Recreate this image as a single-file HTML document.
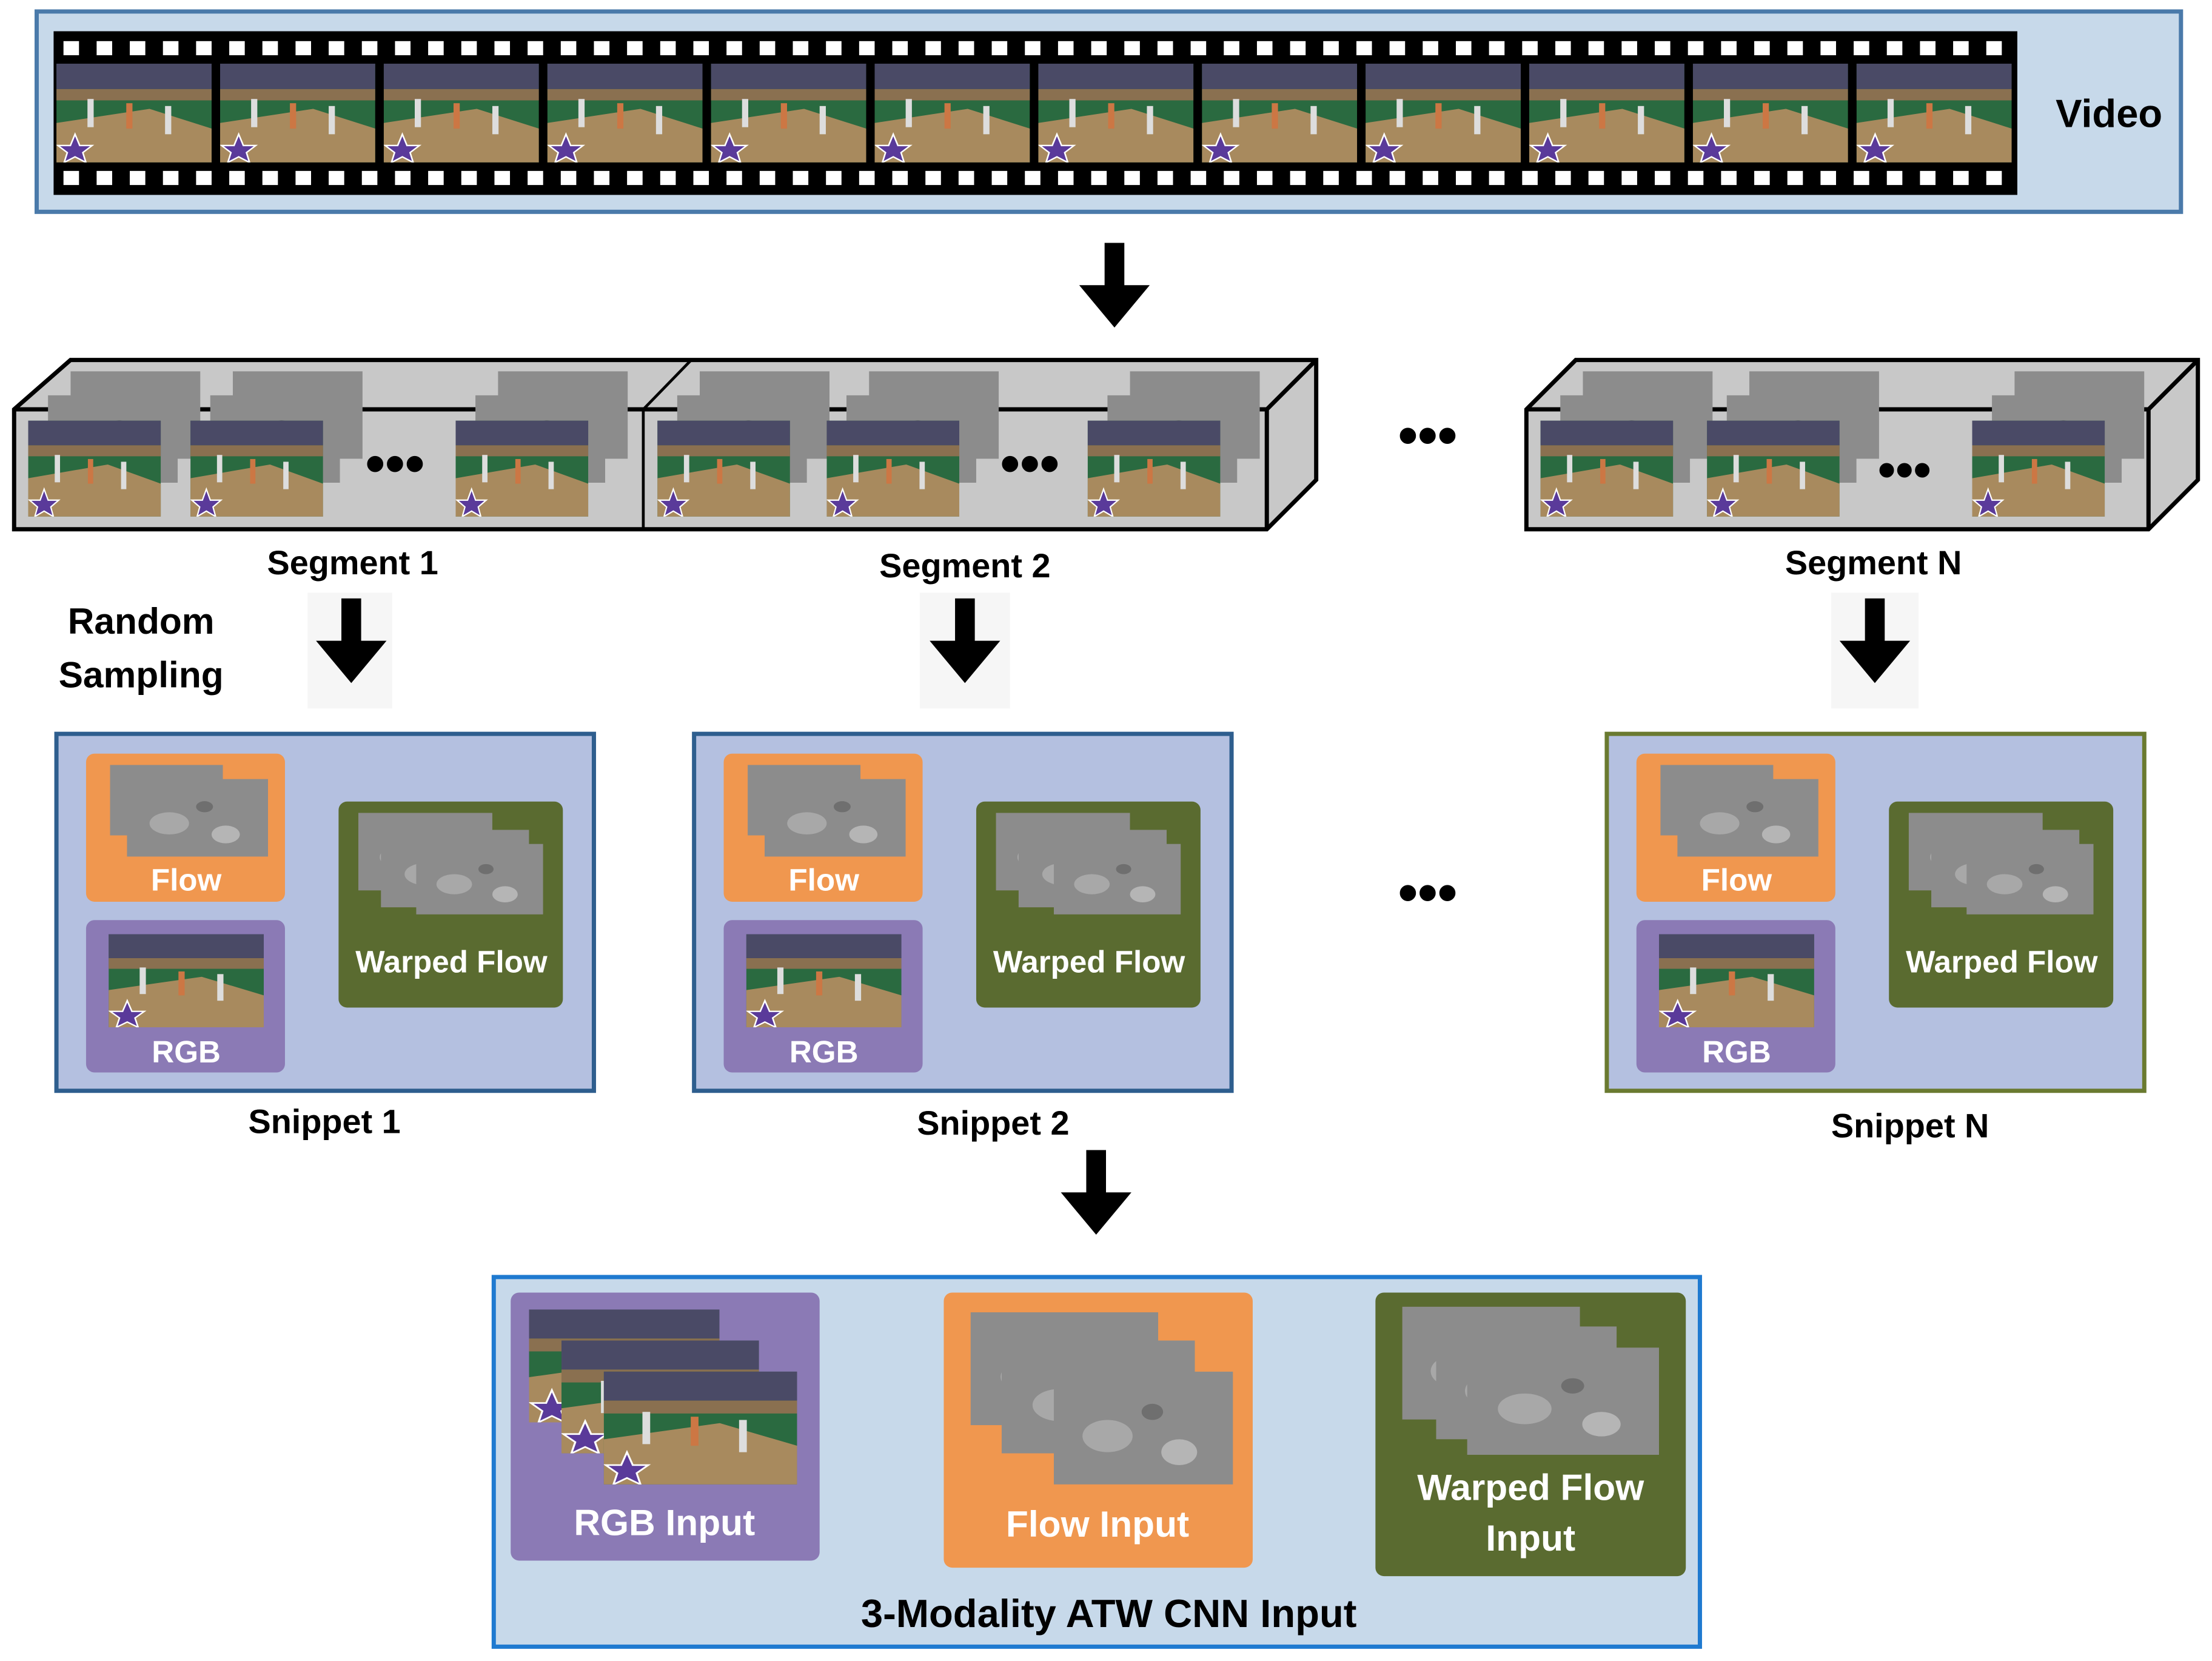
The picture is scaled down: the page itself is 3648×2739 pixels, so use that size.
<!DOCTYPE html>
<html><head><meta charset="utf-8"><style>
html,body{margin:0;padding:0;background:#fff;}
svg{display:block;}
text{font-family:"Liberation Sans",sans-serif;font-weight:bold;}
</style></head><body>
<svg id="s" width="3648" height="2739" viewBox="0 0 1568 1177" xmlns="http://www.w3.org/2000/svg">
<defs>
<symbol id="vf" viewBox="0 0 100 70" preserveAspectRatio="none">
<rect width="100" height="70" fill="#2a6a40"/>
<rect width="100" height="18" fill="#4a4a66"/>
<rect y="18" width="100" height="8" fill="#8a7050"/>
<path d="M0 42 L60 32 L100 46 L100 70 L0 70Z" fill="#a88a5e"/>
<rect x="20" y="25" width="4" height="20" fill="#ddd"/><rect x="45" y="28" width="4" height="18" fill="#c74"/><rect x="70" y="30" width="4" height="20" fill="#ddd"/>
<polygon points="12,50 15,58 23,58 17,63 19,70 12,66 5,70 7,63 1,58 9,58" fill="#5a3a9a" stroke="#fff"/>
</symbol>
<symbol id="gf" viewBox="0 0 100 70" preserveAspectRatio="none">
<rect width="100" height="70" fill="#8c8c8c"/>
<ellipse cx="30" cy="40" rx="14" ry="10" fill="#a8a8a8"/><ellipse cx="70" cy="50" rx="10" ry="8" fill="#b5b5b5"/><ellipse cx="55" cy="25" rx="6" ry="5" fill="#6f6f6f"/>
</symbol>
<g id="arr"><rect x="-7" y="0" width="14" height="42" fill="#000"/><polygon points="-25,30 25,30 0,60" fill="#000"/></g>
</defs>
<rect x="26" y="8" width="1520" height="142" fill="#c7d9ea" stroke="#4a7aaa" stroke-width="3"/>
<rect x="38" y="22" width="1392" height="116" fill="#000"/>
<g id="film"></g>
<text x="1495" y="90" font-size="28" text-anchor="middle">Video</text>
<use href="#arr" transform="translate(790,172)"/>
<polygon points="10,290 50,255 933,255 933,340 898,375 10,375" fill="#c8c8c8" stroke="#000" stroke-width="3"/>
<polyline points="10,290 898,290 933,255" fill="none" stroke="#000" stroke-width="3"/>
<line x1="898" y1="290" x2="898" y2="375" stroke="#000" stroke-width="3"/>
<polyline points="456,375 456,290 490,255" fill="none" stroke="#000" stroke-width="2"/>
<polygon points="1082,290 1117,255 1558,255 1558,340 1523,375 1082,375" fill="#c8c8c8" stroke="#000" stroke-width="3"/>
<polyline points="1082,290 1523,290 1558,255" fill="none" stroke="#000" stroke-width="3"/>
<line x1="1523" y1="290" x2="1523" y2="375" stroke="#000" stroke-width="3"/>
<g id="segs"></g>
<text x="1012" y="322" font-size="40" text-anchor="middle">•••</text>
<text x="250" y="407" font-size="24" text-anchor="middle">Segment 1</text>
<text x="684" y="409" font-size="24" text-anchor="middle">Segment 2</text>
<text x="1328" y="407" font-size="24" text-anchor="middle">Segment N</text>
<text x="100" y="449" font-size="26" text-anchor="middle">Random</text>
<text x="100" y="487" font-size="26" text-anchor="middle">Sampling</text>
<rect x="218" y="420" width="60" height="82" fill="#f6f6f6"/><rect x="652" y="420" width="64" height="82" fill="#f6f6f6"/><rect x="1298" y="420" width="62" height="82" fill="#f6f6f6"/>
<use href="#arr" transform="translate(249,424)"/><use href="#arr" transform="translate(684,424)"/><use href="#arr" transform="translate(1329,424)"/>
<g id="snips"></g>
<text x="1012" y="646" font-size="40" text-anchor="middle">•••</text>
<text x="230" y="803" font-size="24" text-anchor="middle">Snippet 1</text>
<text x="704" y="804" font-size="24" text-anchor="middle">Snippet 2</text>
<text x="1354" y="806" font-size="24" text-anchor="middle">Snippet N</text>
<use href="#arr" transform="translate(777,815)"/>
<rect x="350" y="905" width="855" height="262" fill="#c7d9ea" stroke="#1f7ad0" stroke-width="3"/>
<rect x="362" y="916" width="219" height="190" rx="6" fill="#8b7ab5"/>
<use href="#vf" x="375" y="928" width="135" height="80"/><use href="#vf" x="398" y="950" width="140" height="80"/><use href="#vf" x="428" y="972" width="137" height="80"/>
<text x="471" y="1088" font-size="26" fill="#fff" text-anchor="middle">RGB Input</text>
<rect x="669" y="916" width="219" height="195" rx="6" fill="#f0974f"/>
<use href="#gf" x="688" y="930" width="133" height="80"/><use href="#gf" x="710" y="950" width="137" height="80"/><use href="#gf" x="747" y="972" width="127" height="80"/>
<text x="778" y="1089" font-size="26" fill="#fff" text-anchor="middle">Flow Input</text>
<rect x="975" y="916" width="220" height="201" rx="6" fill="#5a6b30"/>
<use href="#gf" x="994" y="926" width="126" height="80"/><use href="#gf" x="1018" y="940" width="128" height="80"/><use href="#gf" x="1040" y="955" width="136" height="76"/>
<text x="1085" y="1063" font-size="26" fill="#fff" text-anchor="middle">Warped Flow</text>
<text x="1085" y="1099" font-size="26" fill="#fff" text-anchor="middle">Input</text>
<text x="786" y="1153" font-size="28" text-anchor="middle">3-Modality ATW CNN Input</text>
</svg>
<script>
var N="http://www.w3.org/2000/svg";
function el(p,t,a){var e=document.createElementNS(N,t);for(var k in a)e.setAttribute(k,a[k]);p.appendChild(e);return e;}
var f=document.getElementById("film");
for(var x=45;x<1425;x+=23.5){el(f,"rect",{x:x,y:29,width:11,height:10,fill:"#fff"});el(f,"rect",{x:x,y:121,width:11,height:10,fill:"#fff"});}
for(var i=0;i<12;i++)el(f,"use",{href:"#vf",x:40+i*116,y:45,width:110,height:70});
var s=document.getElementById("segs");
function seg(xs){xs.forEach(function(x){el(s,"use",{href:"#gf",x:x+30,y:263,width:92,height:62});el(s,"use",{href:"#gf",x:x+14,y:280,width:92,height:62});el(s,"use",{href:"#vf",x:x,y:298,width:94,height:68});});}
seg([20,135,323]);seg([466,586,771]);seg([1092,1210,1398]);
el(s,"text",{x:280,y:342,"font-size":40,"text-anchor":"middle"}).textContent="•••";
el(s,"text",{x:730,y:342,"font-size":40,"text-anchor":"middle"}).textContent="•••";
el(s,"text",{x:1350,y:345,"font-size":36,"text-anchor":"middle"}).textContent="•••";
var g=document.getElementById("snips");
[[40,"#2e5e8e"],[492,"#2e5e8e"],[1139,"#6a7a30"]].forEach(function(a){var x=a[0];
el(g,"rect",{x:x,y:520,width:381,height:253,fill:"#b4c0e0",stroke:a[1],"stroke-width":3});
el(g,"rect",{x:x+21,y:534,width:141,height:105,rx:6,fill:"#f0974f"});
el(g,"use",{href:"#gf",x:x+38,y:542,width:80,height:50});el(g,"use",{href:"#gf",x:x+50,y:552,width:100,height:55});
el(g,"text",{x:x+92,y:631,"font-size":22,fill:"#fff","text-anchor":"middle"}).textContent="Flow";
el(g,"rect",{x:x+21,y:652,width:141,height:108,rx:6,fill:"#8b7ab5"});
el(g,"use",{href:"#vf",x:x+37,y:662,width:110,height:66});
el(g,"text",{x:x+92,y:753,"font-size":22,fill:"#fff","text-anchor":"middle"}).textContent="RGB";
el(g,"rect",{x:x+200,y:568,width:159,height:146,rx:6,fill:"#5a6b30"});
el(g,"use",{href:"#gf",x:x+214,y:576,width:95,height:55});el(g,"use",{href:"#gf",x:x+230,y:588,width:105,height:55});el(g,"use",{href:"#gf",x:x+255,y:598,width:90,height:50});
el(g,"text",{x:x+280,y:689,"font-size":22,fill:"#fff","text-anchor":"middle"}).textContent="Warped Flow";
});
</script>
</body></html>
